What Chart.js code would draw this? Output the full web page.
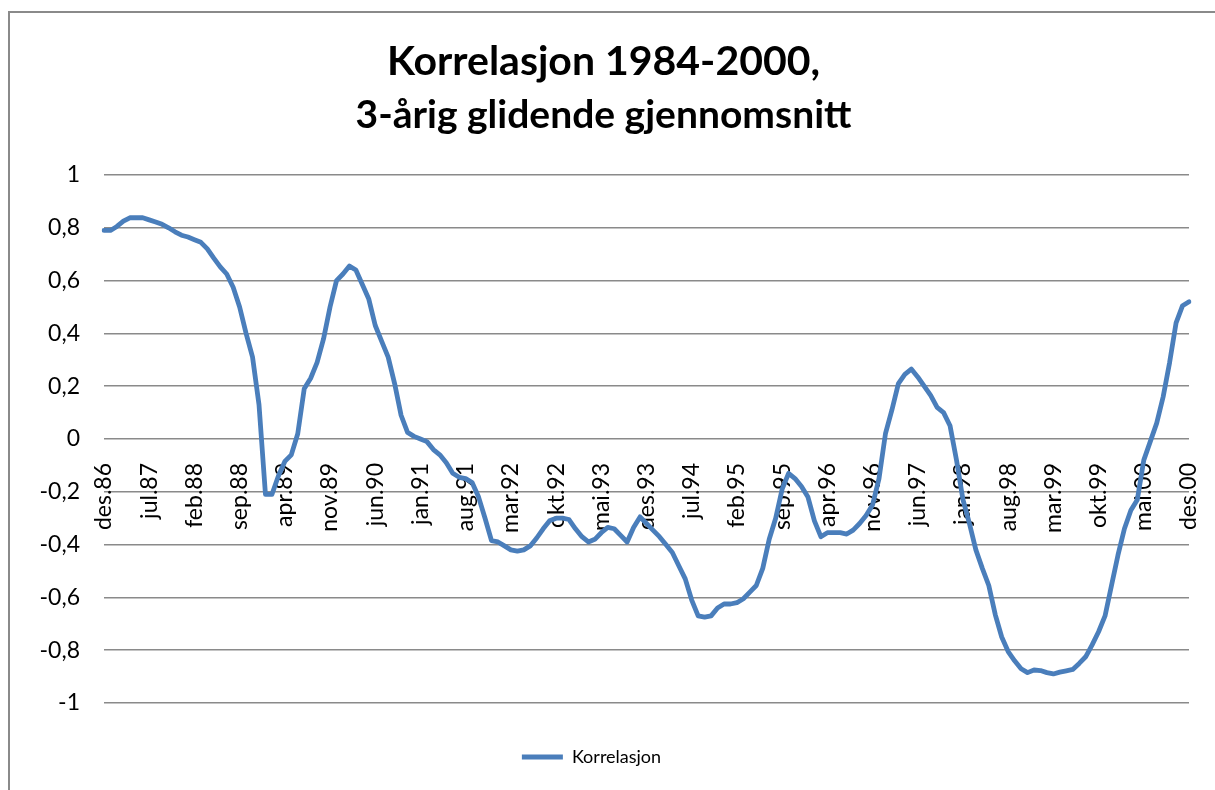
<!DOCTYPE html>
<html lang="no">
<head>
<meta charset="utf-8">
<title>Korrelasjon 1984-2000</title>
<script src="https://cdn.jsdelivr.net/npm/chart.js@4.4.1/dist/chart.umd.min.js"></script>
<style>
  html, body { margin: 0; padding: 0; background: #fff; overflow: hidden; }
  #wrap { position: relative; width: 1215px; height: 790px; }
  #frame { position: absolute; left: 8px; top: 11px; right: -10px; bottom: -10px;
           border-left: 2px solid #8a8a8a; border-top: 2px solid #8a8a8a; }
  canvas { position: absolute; left: 0; top: 0; }
</style>
</head>
<body>
<div id="wrap">
  <div id="frame"></div>
  <canvas id="chart" width="1215" height="790"></canvas>
</div>
<script>
// månedsnavn brukt i kategoriene (des.86 ... des.00)
const monthNames = ['jan', 'feb', 'mar', 'apr', 'mai', 'jun', 'jul', 'aug', 'sep', 'okt', 'nov', 'des'];
const startYear = 1986, startMonth = 11;  // des.86
const endYear = 2000, endMonth = 11;      // des.00
const labelStep = 7;                      // vis hver 7. måned

const categories = [];
for (let y = startYear, m = startMonth; ; m++) {
  if (m > 11) { m = 0; y++; }
  if (y > endYear || (y === endYear && m > endMonth)) break;
  categories.push(monthNames[m] + '.' + String(y).slice(2));
}

// 3-årig glidende korrelasjon, en verdi per måned
const korrelasjon = [
  0.79, 0.79, 0.805, 0.825, 0.838, 0.838, 0.838, 0.83, 0.822, 0.813,
  0.80, 0.785, 0.772, 0.765, 0.755, 0.745, 0.72, 0.685, 0.652, 0.625,
  0.575, 0.50, 0.40, 0.31, 0.13, -0.21, -0.21, -0.14, -0.085, -0.06,
  0.02, 0.19, 0.23, 0.29, 0.38, 0.50, 0.60, 0.625, 0.655, 0.64,
  0.585, 0.53, 0.43, 0.37, 0.31, 0.21, 0.09, 0.025, 0.01, 0.0,
  -0.01, -0.04, -0.06, -0.09, -0.13, -0.145, -0.15, -0.165, -0.22, -0.30,
  -0.385, -0.39, -0.405, -0.42, -0.425, -0.42, -0.405, -0.375, -0.34, -0.31,
  -0.30, -0.30, -0.305, -0.34, -0.37, -0.39, -0.38, -0.355, -0.335, -0.34,
  -0.365, -0.39, -0.335, -0.295, -0.32, -0.345, -0.37, -0.40, -0.43, -0.48,
  -0.53, -0.61, -0.67, -0.675, -0.67, -0.64, -0.625, -0.625, -0.62, -0.605,
  -0.58, -0.555, -0.49, -0.38, -0.30, -0.19, -0.13, -0.15, -0.18, -0.22,
  -0.31, -0.37, -0.355, -0.355, -0.355, -0.36, -0.345, -0.32, -0.29, -0.25,
  -0.15, 0.02, 0.11, 0.21, 0.245, 0.265, 0.235, 0.20, 0.165, 0.12,
  0.10, 0.05, -0.08, -0.23, -0.32, -0.42, -0.49, -0.555, -0.665, -0.75,
  -0.805, -0.84, -0.87, -0.885, -0.875, -0.877, -0.885, -0.89, -0.883, -0.878,
  -0.873, -0.85, -0.825, -0.78, -0.73, -0.67, -0.555, -0.44, -0.34, -0.27,
  -0.23, -0.08, -0.01, 0.06, 0.16, 0.29, 0.44, 0.505, 0.52
];

const FONT = 'Lato, "Open Sans", sans-serif';
const lineColor = '#4a7ebb';
const gridColor = '#8a8a8a';

// flytt legenden litt mot venstre, som i Excel-figuren
const legendShift = {
  id: 'legendShift',
  afterLayout(chart) {
    if (!chart.legend) return;
    chart.legend.left -= 12;
    chart.legend.right -= 12;
  }
};

new Chart(document.getElementById('chart'), {
  type: 'line',
  data: {
    labels: categories,
    datasets: [{
      label: 'Korrelasjon',
      data: korrelasjon,
      borderColor: lineColor,
      backgroundColor: lineColor,
      borderWidth: 4.8,
      borderCapStyle: 'round',
      borderJoinStyle: 'round',
      pointRadius: 0,
      tension: 0,
      fill: false
    }]
  },
  plugins: [legendShift],
  options: {
    responsive: false,
    animation: false,
    layout: { padding: { left: 18, right: 26, top: 0, bottom: 14 } },
    plugins: {
      title: {
        display: true,
        text: 'Korrelasjon 1984-2000,',
        color: '#000',
        font: { family: FONT, size: 41, weight: 'bold' },
        padding: { top: 37, bottom: 0 }
      },
      subtitle: {
        display: true,
        text: '3-årig glidende gjennomsnitt',
        color: '#000',
        font: { family: FONT, size: 39, weight: 'bold' },
        padding: { top: 6, bottom: 36 }
      },
      legend: {
        position: 'bottom',
        labels: {
          usePointStyle: true,
          pointStyle: 'line',
          pointStyleWidth: 41,
          padding: 45,
          color: '#000',
          font: { family: FONT, size: 18 }
        }
      },
      tooltip: { enabled: false }
    },
    scales: {
      x: {
        position: { y: 0 },
        afterFit: s => { s.paddingLeft = 0; s.paddingRight = 0; },
        grid: { display: false, drawTicks: false },
        border: { display: false },
        ticks: {
          autoSkip: false,
          minRotation: 90,
          maxRotation: 90,
          padding: 24,
          color: '#000',
          font: { family: FONT, size: 23 },
          callback: (v, i) => i % labelStep === 0 ? categories[i] : null
        }
      },
      y: {
        min: -1,
        max: 1,
        afterFit: s => { s.width = 86; },
        grid: { color: gridColor, lineWidth: 1.6, drawTicks: false },
        border: { display: false },
        ticks: {
          stepSize: 0.2,
          padding: 24,
          color: '#000',
          font: { family: FONT, size: 23 },
          callback: v => String(Math.round(v * 10) / 10).replace('.', ',')
        }
      }
    }
  }
});
</script>
</body>
</html>
